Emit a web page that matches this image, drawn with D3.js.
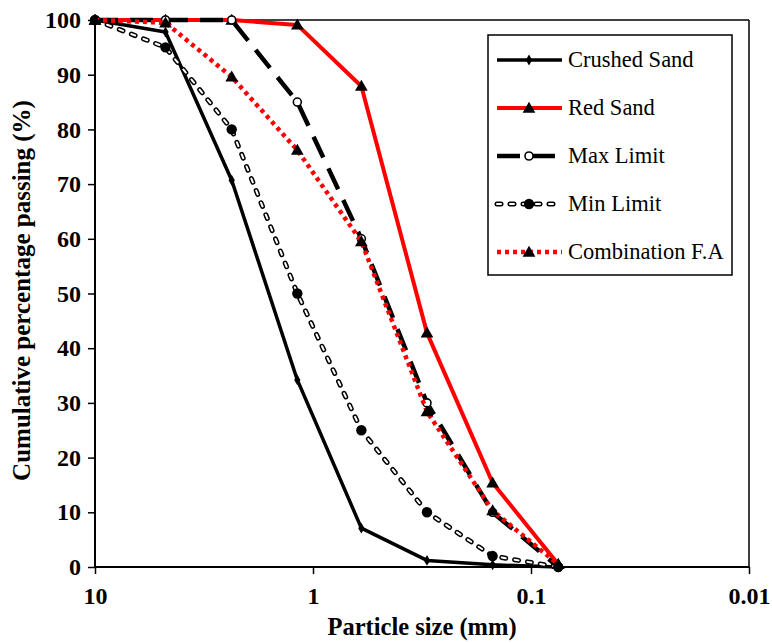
<!DOCTYPE html>
<html>
<head>
<meta charset="utf-8">
<script src="https://cdn.jsdelivr.net/npm/d3@7/dist/d3.min.js"></script>
<style>
body{margin:0;background:#fff;}
svg text{font-family:"Liberation Serif","Times New Roman",serif;}
</style>
</head>
<body>
<svg id="c" width="772" height="643"></svg>
<script>
const sizes = [10, 4.75, 2.36, 1.18, 0.6, 0.3, 0.15, 0.075];
const crushedSand = [100, 97.8, 70.7, 34.2, 7.1, 1.2, 0.4, 0];
const redSand = [100, 100, 100, 99.1, 87.9, 42.8, 15.4, 0.5];
const maxLimit = [100, 100, 100, 85, 60, 30, 10, 0];
const minLimit = [100, 95, 80, 50, 25, 10, 2, 0];
const combination = [100, 99.5, 89.6, 76.2, 59.5, 28.4, 10.3, 0.5];
const xTicks = [10, 1, 0.1, 0.01];
const xTickLabels = ["10", "1", "0.1", "0.01"];
const yTicks = [0,10,20,30,40,50,60,70,80,90,100];
const seriesNames = ["Crushed Sand","Red Sand","Max Limit","Min Limit","Combination F.A"];

const svg = d3.select("#c");
const L = 95, R = 749, T = 20, B = 567;
const x = d3.scaleLog().domain([10, 0.01]).range([L, R]);
const y = d3.scaleLinear().domain([0, 100]).range([B, T]);

// frame
svg.append("line").attr("x1",L).attr("x2",R).attr("y1",T).attr("y2",T).attr("stroke","#000").attr("stroke-width",1.5);
svg.append("line").attr("x1",R).attr("x2",R).attr("y1",T).attr("y2",B).attr("stroke","#000").attr("stroke-width",1.5);

// axes
const yAxis = d3.axisLeft(y).tickValues(yTicks).tickSize(7).tickPadding(7).tickFormat(d3.format("d"));
const gy = svg.append("g").attr("transform",`translate(${L},0)`).call(yAxis);
const xAxis = d3.axisBottom(x).tickValues(xTicks).tickSize(7).tickPadding(13)
  .tickFormat((d,i)=>xTickLabels[i]);
const gx = svg.append("g").attr("transform",`translate(0,${B})`).call(xAxis);
[gx, gy].forEach(g=>{
  g.select(".domain").attr("stroke","#000").attr("stroke-width",2);
  g.selectAll(".tick line").attr("stroke","#000").attr("stroke-width",1.5);
  g.selectAll(".tick text").attr("font-family","Liberation Serif").attr("font-weight","bold")
   .attr("font-size",24).attr("fill","#000");
});
gx.select(".domain").attr("d",`M${L},0H${R}`);
gy.select(".domain").attr("d",`M0,${B}V${T}`);

// titles
svg.append("text").attr("x",(L+R)/2).attr("y",635).attr("text-anchor","middle")
  .attr("font-weight","bold").attr("font-size",24.5).text("Particle size (mm)");
svg.append("text").attr("transform",`translate(30,${(T+B)/2 - 3}) rotate(-90)`).attr("text-anchor","middle")
  .attr("font-weight","bold").attr("font-size",25).text("Cumulative percentage passing (%)");

const line = d3.line().x(d=>x(d[0])).y(d=>y(d[1]));
const pts = vals => sizes.map((s,i)=>[s, vals[i]]);

const styles = [
  {vals:crushedSand, layers:[{stroke:"#000",w:3.5}], marker:"diamond"},
  {vals:redSand, layers:[{stroke:"#f00",w:4}], marker:"triangle"},
  {vals:maxLimit, layers:[{stroke:"#000",w:4.5,dash:"23,12"}], marker:"opencircle"},
  {vals:minLimit, layers:[{stroke:"#000",w:5,dash:"4,9",cap:"round"},{stroke:"#fff",w:2,dash:"4,9",cap:"round"}], marker:"circle"},
  {vals:combination, layers:[{stroke:"#f00",w:4.5,dash:"4,4"}], marker:"triangle"}
];

function drawMarker(g, type, cx, cy){
  if(type==="diamond"){
    g.append("path").attr("d",d3.symbol(d3.symbolDiamond,34)()).attr("transform",`translate(${cx},${cy})`).attr("fill","#000");
  } else if(type==="triangle"){
    g.append("path").attr("d",d3.symbol(d3.symbolTriangle,70)()).attr("transform",`translate(${cx},${cy+1})`).attr("fill","#000");
  } else if(type==="opencircle"){
    g.append("circle").attr("cx",cx).attr("cy",cy).attr("r",4).attr("fill","#fff").attr("stroke","#000").attr("stroke-width",1.6);
  } else if(type==="circle"){
    g.append("circle").attr("cx",cx).attr("cy",cy).attr("r",5.2).attr("fill","#000");
  }
}

styles.forEach(s=>{
  const g = svg.append("g");
  s.layers.forEach(l=>{
    g.append("path").attr("d",line(pts(s.vals))).attr("fill","none").attr("stroke",l.stroke)
      .attr("stroke-width",l.w).attr("stroke-dasharray",l.dash||null).attr("stroke-linecap",l.cap||"butt")
      .attr("stroke-linejoin","round");
  });
  pts(s.vals).forEach(p=>drawMarker(g, s.marker, x(p[0]), y(p[1])));
});

// legend
const lg = svg.append("g");
lg.append("rect").attr("x",488).attr("y",35).attr("width",244).attr("height",240).attr("fill","#fff").attr("stroke","#000").attr("stroke-width",1.5);
const rowY = [60,108,156,204,252];
styles.forEach((s,i)=>{
  const yy = rowY[i];
  s.layers.forEach(l=>{
    lg.append("line").attr("x1",497).attr("x2",562).attr("y1",yy).attr("y2",yy).attr("stroke",l.stroke)
      .attr("stroke-width",l.w).attr("stroke-dasharray",l.dash||null).attr("stroke-linecap",l.cap||"butt");
  });
  drawMarker(lg, s.marker, 529, yy);
  lg.append("text").attr("x",568).attr("y",yy+7).attr("font-size",22.5).attr("fill","#000").text(seriesNames[i]);
});
</script>
</body>
</html>
